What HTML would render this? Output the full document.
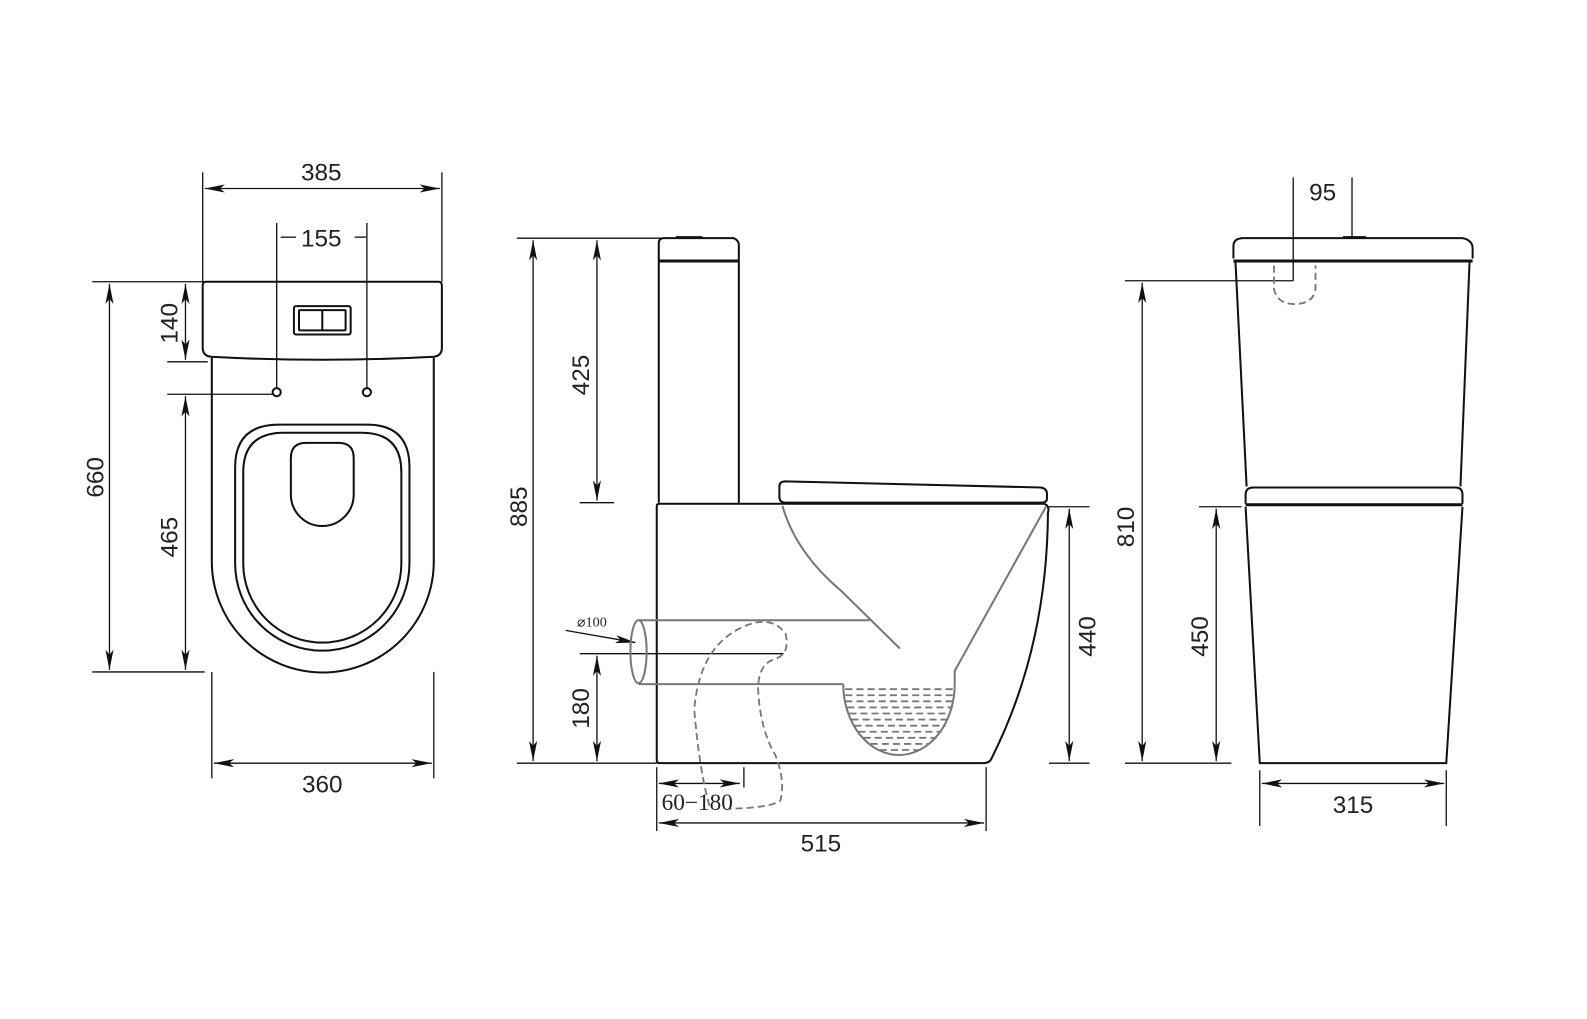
<!DOCTYPE html>
<html><head><meta charset="utf-8"><style>html,body{margin:0;padding:0;background:#fff}svg{display:block}</style></head><body>
<svg width="1587" height="1019" viewBox="0 0 1587 1019" xmlns="http://www.w3.org/2000/svg">
<defs>
<marker id="a" viewBox="0 0 20 8" refX="20" refY="4" markerWidth="20" markerHeight="8" markerUnits="userSpaceOnUse" orient="auto-start-reverse"><path d="M0,0 L20,4 L0,8 L5,4 Z" fill="#111"/></marker>
</defs>
<g transform="scale(1.0135)">
<g font-family="Liberation Sans, sans-serif" font-size="24" fill="#222" text-anchor="middle">
<!-- LEFT VIEW -->
<g stroke="#111" stroke-width="1.3" fill="none">
<line x1="200" y1="170" x2="200" y2="278"/><line x1="436" y1="170" x2="436" y2="278"/>
<line x1="202" y1="186" x2="434" y2="186" marker-start="url(#a)" marker-end="url(#a)"/>
<line x1="273" y1="220" x2="273" y2="383"/><line x1="362" y1="220" x2="362" y2="383"/>
<line x1="277" y1="234" x2="292" y2="234"/><line x1="350" y1="234" x2="361" y2="234"/>
<line x1="91" y1="278" x2="205" y2="278"/><line x1="91" y1="663" x2="202" y2="663"/>
<line x1="108" y1="280" x2="108" y2="661" marker-start="url(#a)" marker-end="url(#a)"/>
<line x1="165" y1="357" x2="205" y2="357"/>
<line x1="183" y1="280" x2="183" y2="355" marker-start="url(#a)" marker-end="url(#a)"/>
<line x1="165" y1="389" x2="270" y2="389"/>
<line x1="183" y1="391" x2="183" y2="661" marker-start="url(#a)" marker-end="url(#a)"/>
<line x1="209" y1="663" x2="209" y2="768"/><line x1="428" y1="663" x2="428" y2="768"/>
<line x1="211" y1="753" x2="426" y2="753" marker-start="url(#a)" marker-end="url(#a)"/>
</g>
<g stroke="#111" stroke-width="2" fill="none">
<path d="M203,278 H433 Q436,278 436,282 V343 Q436,351 428,352 Q318,358 208,352 Q200,351 200,343 V282 Q200,278 203,278 Z"/>
<path d="M209,353 V554 A109,109 0 0 0 428,554 V353"/>
<rect x="290" y="302" width="56" height="28" rx="2"/>
<rect x="295" y="306" width="46" height="20" rx="1"/><line x1="318" y1="306" x2="318" y2="326"/>
<circle cx="273" cy="387" r="4"/><circle cx="362" cy="387" r="4"/>
<path d="M275,419 H362 Q404,419 404,461 V556 A86,86 0 0 1 232,556 V461 Q232,419 275,419 Z"/>
<path d="M280,427 H357 Q396,427 396,466 V556 A78,78 0 0 1 240,556 V466 Q240,427 280,427 Z"/>
<path d="M302,437 H334 Q349,437 349,452 V488 A31,31 0 0 1 287,488 V452 Q287,437 302,437 Z"/>
</g>
<text x="317" y="178">385</text>
<text x="317" y="243">155</text>
<text x="318" y="782">360</text>
<text transform="translate(102,471) rotate(-90)">660</text>
<text transform="translate(175,319) rotate(-90)">140</text>
<text transform="translate(175,530) rotate(-90)">465</text>

<!-- MIDDLE VIEW -->
<g stroke="#111" stroke-width="1.3" fill="none">
<line x1="510" y1="235" x2="652" y2="235"/><line x1="510" y1="753" x2="648" y2="753"/>
<line x1="526" y1="237" x2="526" y2="751" marker-start="url(#a)" marker-end="url(#a)"/>
<line x1="572" y1="496" x2="606" y2="496"/>
<line x1="589" y1="237" x2="589" y2="494" marker-start="url(#a)" marker-end="url(#a)"/>
<line x1="572" y1="645" x2="773" y2="645"/>
<line x1="589" y1="647" x2="589" y2="751" marker-start="url(#a)" marker-end="url(#a)"/>
<line x1="734" y1="757" x2="734" y2="777"/>
<line x1="650" y1="773" x2="730" y2="773" marker-start="url(#a)" marker-end="url(#a)"/>
<line x1="648" y1="757" x2="648" y2="820"/><line x1="973" y1="757" x2="973" y2="820"/>
<line x1="650" y1="812" x2="971" y2="812" marker-start="url(#a)" marker-end="url(#a)"/>
<line x1="1035" y1="500" x2="1075" y2="500"/><line x1="1035" y1="753" x2="1075" y2="753"/>
<line x1="1055" y1="502" x2="1055" y2="751" marker-start="url(#a)" marker-end="url(#a)"/>
<line x1="558" y1="622" x2="627" y2="634" marker-end="url(#a)"/>
</g>
<g stroke="#111" stroke-width="2" fill="none">
<path d="M650,496 V240 Q650,235 655,235 H724 Q729,237 729,242 V496"/>
<line x1="667" y1="234" x2="693" y2="234"/>
<path d="M648,499 Q648,497 651,497 H1030 Q1036,499 1034,506 Q1033,640 978,749 Q976,753 970,753 H651 Q648,753 648,750 Z"/>
<path d="M775,475 L1027,481 Q1033,482 1033,487 V492 Q1033,496 1027,496 H775 Q769,496 769,490 V480 Q769,475 775,475 Z"/>
</g>
<line x1="650" y1="257.5" x2="729" y2="257.5" stroke="#111" stroke-width="3"/>
<g stroke="#777" stroke-width="2" fill="none">
<path d="M772,499 Q785,545 830,583 L888,640"/>
<path d="M1032,500 L942,662 V675"/>
<path d="M832,675 A55,70 0 0 0 942,675"/>
<path d="M630,612 H858 M630,675 H832"/>
<ellipse cx="630" cy="643" rx="8" ry="31"/>
</g>
<g stroke="#777" stroke-width="1.8" stroke-dasharray="7,4">
<line x1="834" y1="680" x2="941" y2="680"/><line x1="834" y1="686" x2="941" y2="686"/>
<line x1="834" y1="692" x2="941" y2="692"/><line x1="836" y1="698" x2="940" y2="698"/>
<line x1="838" y1="704" x2="938" y2="704"/><line x1="840" y1="710" x2="936" y2="710"/>
<line x1="843" y1="716" x2="933" y2="716"/><line x1="847" y1="722" x2="929" y2="722"/>
<line x1="852" y1="728" x2="924" y2="728"/><line x1="859" y1="734" x2="917" y2="734"/>
<line x1="868" y1="740" x2="908" y2="740"/>
<path fill="none" d="M700,795 Q690,760 685,700 Q690,640 730,620 Q760,605 775,625 Q780,645 765,650 Q748,655 748,680 Q750,720 765,745 Q775,770 770,790 Q760,797 720,798"/>
</g>
<g font-family="Liberation Serif, serif">
<text x="584" y="618" font-size="14">⌀100</text>
<text x="688" y="799" font-size="23">60−180</text>
</g>
<text x="810" y="840">515</text>
<text transform="translate(520,500) rotate(-90)">885</text>
<text transform="translate(581,370) rotate(-90)">425</text>
<text transform="translate(581,699) rotate(-90)">180</text>
<text transform="translate(1081,628) rotate(-90)">440</text>

<!-- RIGHT VIEW -->
<g stroke="#111" stroke-width="1.3" fill="none">
<line x1="1276" y1="175" x2="1276" y2="277"/><line x1="1334" y1="175" x2="1334" y2="235"/>
<line x1="1110" y1="277" x2="1276" y2="277"/><line x1="1110" y1="753" x2="1215" y2="753"/>
<line x1="1127" y1="279" x2="1127" y2="751" marker-start="url(#a)" marker-end="url(#a)"/>
<line x1="1183" y1="500" x2="1225" y2="500"/>
<line x1="1200" y1="502" x2="1200" y2="751" marker-start="url(#a)" marker-end="url(#a)"/>
<line x1="1243" y1="760" x2="1243" y2="815"/><line x1="1427" y1="760" x2="1427" y2="815"/>
<line x1="1245" y1="773" x2="1425" y2="773" marker-start="url(#a)" marker-end="url(#a)"/>
</g>
<g stroke="#111" stroke-width="2" fill="none">
<path d="M1217,255 V243 Q1217,235 1227,235 H1443 Q1453,237 1453,245 V255"/>
<line x1="1325" y1="234" x2="1348" y2="234"/>
<path d="M1219,258 L1230,480 M1450,258 L1441,480"/>
<path d="M1229,497 V488 Q1229,481 1237,481 H1436 Q1443,481 1443,488 V497"/>
<path d="M1229,500 L1243,753 H1427 L1443,500"/>
</g>
<line x1="1217" y1="257.5" x2="1453" y2="257.5" stroke="#111" stroke-width="3"/>
<line x1="1229" y1="498" x2="1443" y2="498" stroke="#111" stroke-width="3"/>
<path d="M1257,262 V285 Q1260,300 1277,300 Q1296,300 1298,285 V262" fill="none" stroke="#777" stroke-width="1.8" stroke-dasharray="7,4"/>
<text x="1305" y="198">95</text>
<text x="1335" y="802">315</text>
<text transform="translate(1119,520) rotate(-90)">810</text>
<text transform="translate(1192,628) rotate(-90)">450</text>
</g>
</g>
</svg>
</body></html>
